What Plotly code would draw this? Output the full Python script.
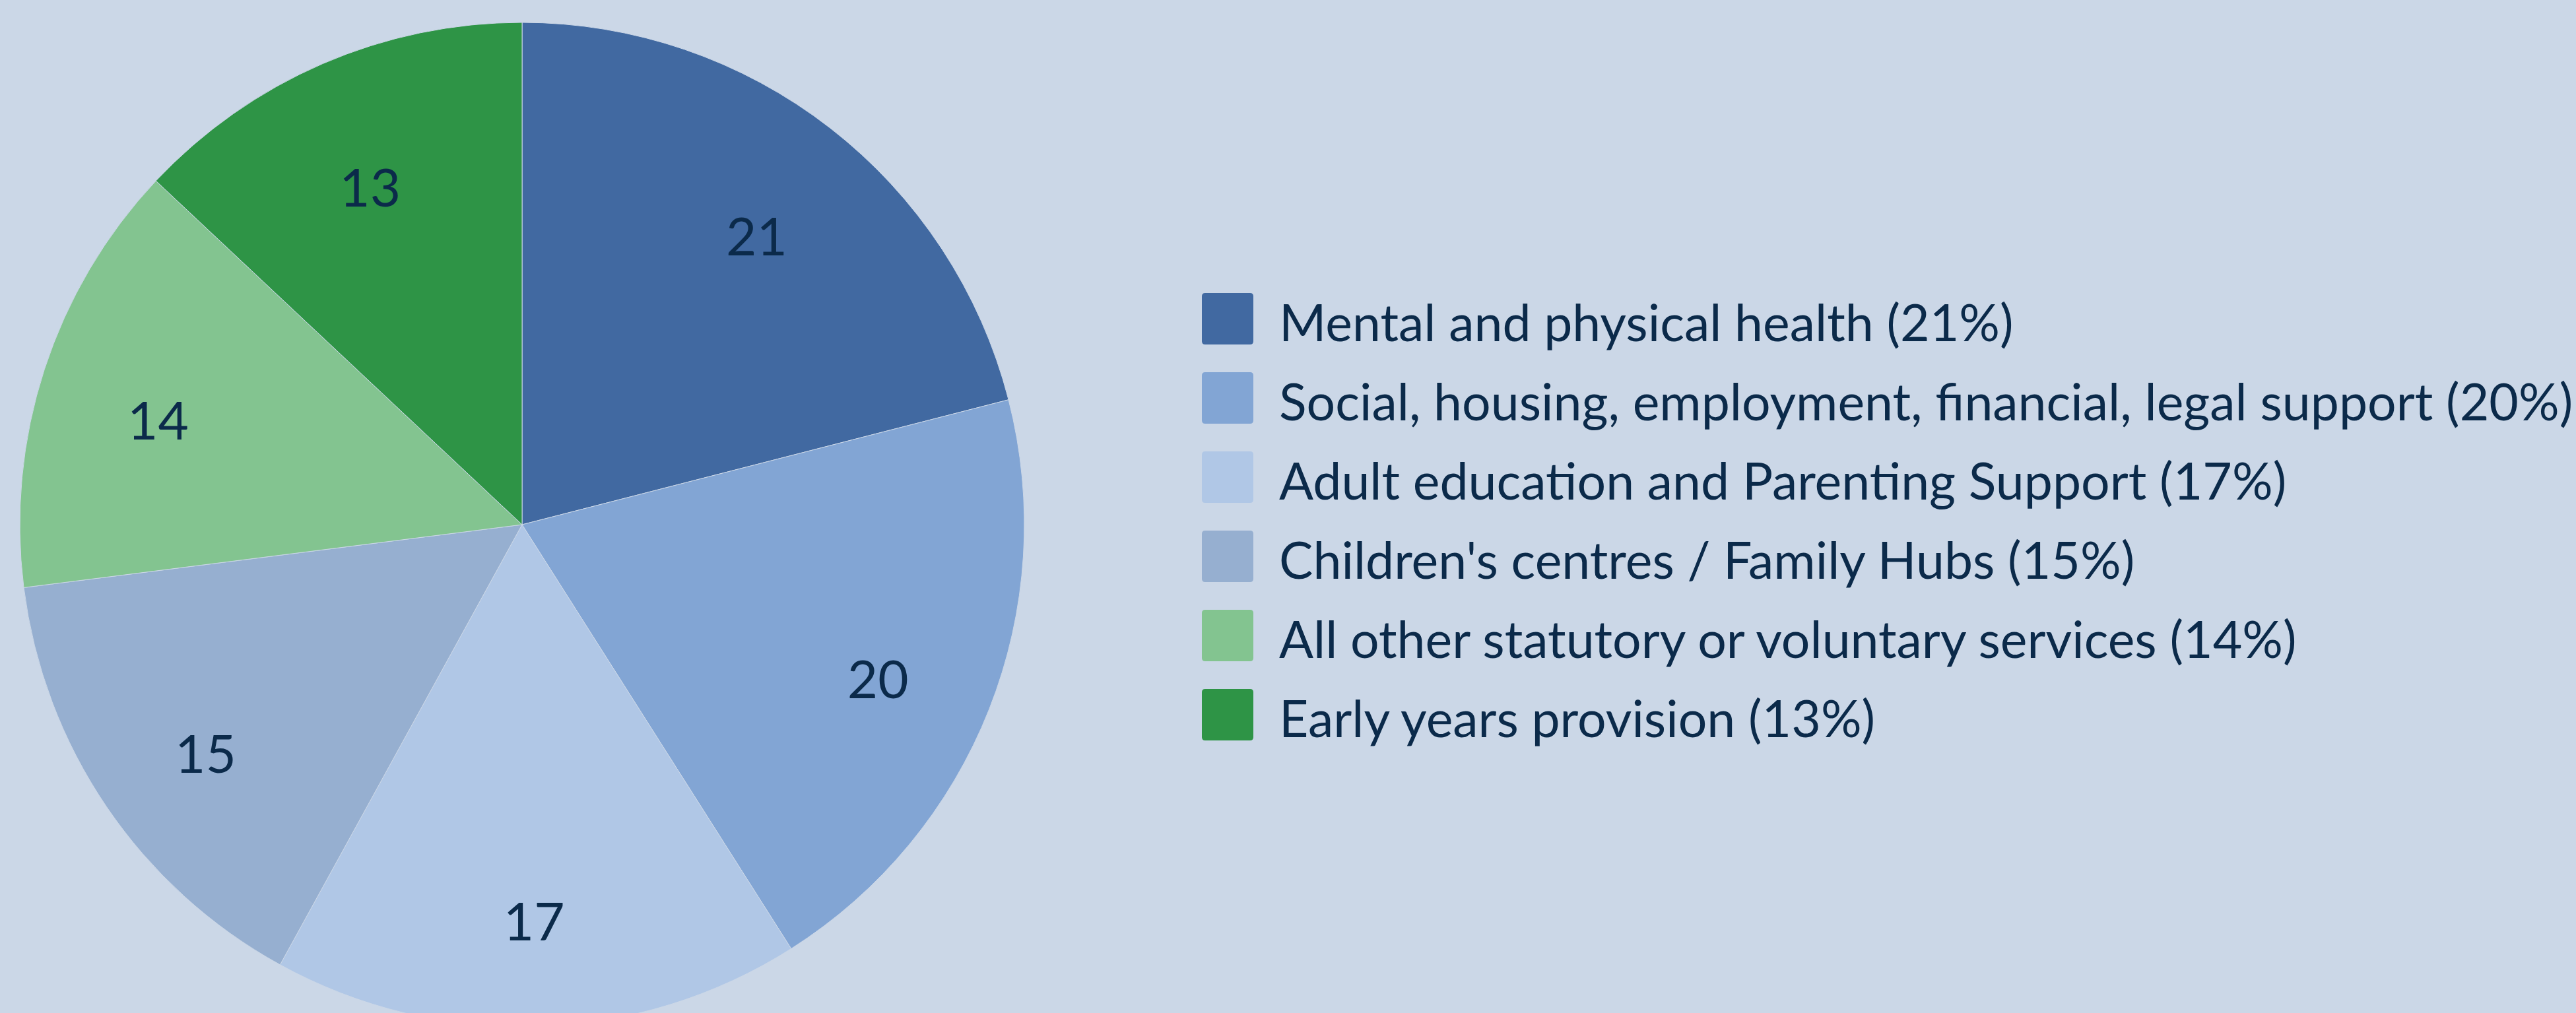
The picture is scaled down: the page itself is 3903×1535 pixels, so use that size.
import plotly.graph_objects as go

# ---- data ----
categories = [
    "Mental and physical health",
    "Social, housing, employment, financial, legal support",
    "Adult education and Parenting Support",
    "Children's centres / Family Hubs",
    "All other statutory or voluntary services",
    "Early years provision",
]
values = [21, 20, 17, 15, 14, 13]
colors = ["#4169A1", "#82A5D4", "#B0C7E6", "#96AFD0", "#83C490", "#2E9446"]
legend_labels = [f"{c} ({v}%)" for c, v in zip(categories, values)]

# ---- style ----
BG = "#CBD7E7"
TXT = "#0B2A4A"
FONT = "Lato"
W, H = 3903, 1600

fig = go.Figure()

pie_domain = dict(x=[0, 1582 / W], y=[1 - 1556 / H, 1 - 34 / H])
LBL_SHIFT = 19
label_domain = dict(x=[0, 1582 / W], y=[1 - (1556 + LBL_SHIFT) / H, 1 - (34 + LBL_SHIFT) / H])

fig.add_trace(go.Pie(
    labels=categories, values=values, sort=False, direction="clockwise", rotation=0,
    marker=dict(colors=colors, line=dict(color=BG, width=1)),
    textinfo="none", showlegend=False, hoverinfo="label+value",
    domain=pie_domain,
))
# transparent ring overlay only used to place the value labels
fig.add_trace(go.Pie(
    labels=categories, values=values, sort=False, direction="clockwise", rotation=0,
    hole=0.524,
    marker=dict(colors=["rgba(0,0,0,0)"] * len(values), line=dict(width=0)),
    textinfo="value", textposition="inside", insidetextorientation="horizontal",
    textfont=dict(family=FONT, size=80, color=TXT),
    insidetextfont=dict(family=FONT, size=80, color=TXT),
    showlegend=False, hoverinfo="skip",
    domain=label_domain,
))

# ---- custom legend (large swatches) ----
sw_left, sw_size, row0, row_step, txt_left, rad = 1821, 78, 483, 120, 1936, 5
shapes, annotations = [], []


def px(x):
    return x / W


def py(y):
    return 1 - y / H


for i, (lab, col) in enumerate(zip(legend_labels, colors)):
    cy = row0 + i * row_step
    x0, x1 = sw_left, sw_left + sw_size
    y0, y1 = cy - sw_size / 2, cy + sw_size / 2
    path = (
        f"M{px(x0 + rad)},{py(y0)} L{px(x1 - rad)},{py(y0)} Q{px(x1)},{py(y0)} {px(x1)},{py(y0 + rad)} "
        f"L{px(x1)},{py(y1 - rad)} Q{px(x1)},{py(y1)} {px(x1 - rad)},{py(y1)} "
        f"L{px(x0 + rad)},{py(y1)} Q{px(x0)},{py(y1)} {px(x0)},{py(y1 - rad)} "
        f"L{px(x0)},{py(y0 + rad)} Q{px(x0)},{py(y0)} {px(x0 + rad)},{py(y0)} Z"
    )
    shapes.append(dict(type="path", xref="paper", yref="paper", path=path,
                       fillcolor=col, line=dict(width=0)))
    annotations.append(dict(xref="paper", yref="paper", x=px(txt_left), y=py(cy + 4),
                            xanchor="left", yanchor="middle", text=lab, showarrow=False,
                            font=dict(family=FONT, size=77, color=TXT)))

fig.update_layout(
    width=W, height=H, margin=dict(l=0, r=0, t=0, b=0),
    paper_bgcolor=BG, plot_bgcolor=BG,
    shapes=shapes, annotations=annotations,
    font=dict(family=FONT, color=TXT),
)

fig.write_html(
    "out.html",
    post_script="document.body.style.overflow='hidden';document.documentElement.style.overflow='hidden';",
)
